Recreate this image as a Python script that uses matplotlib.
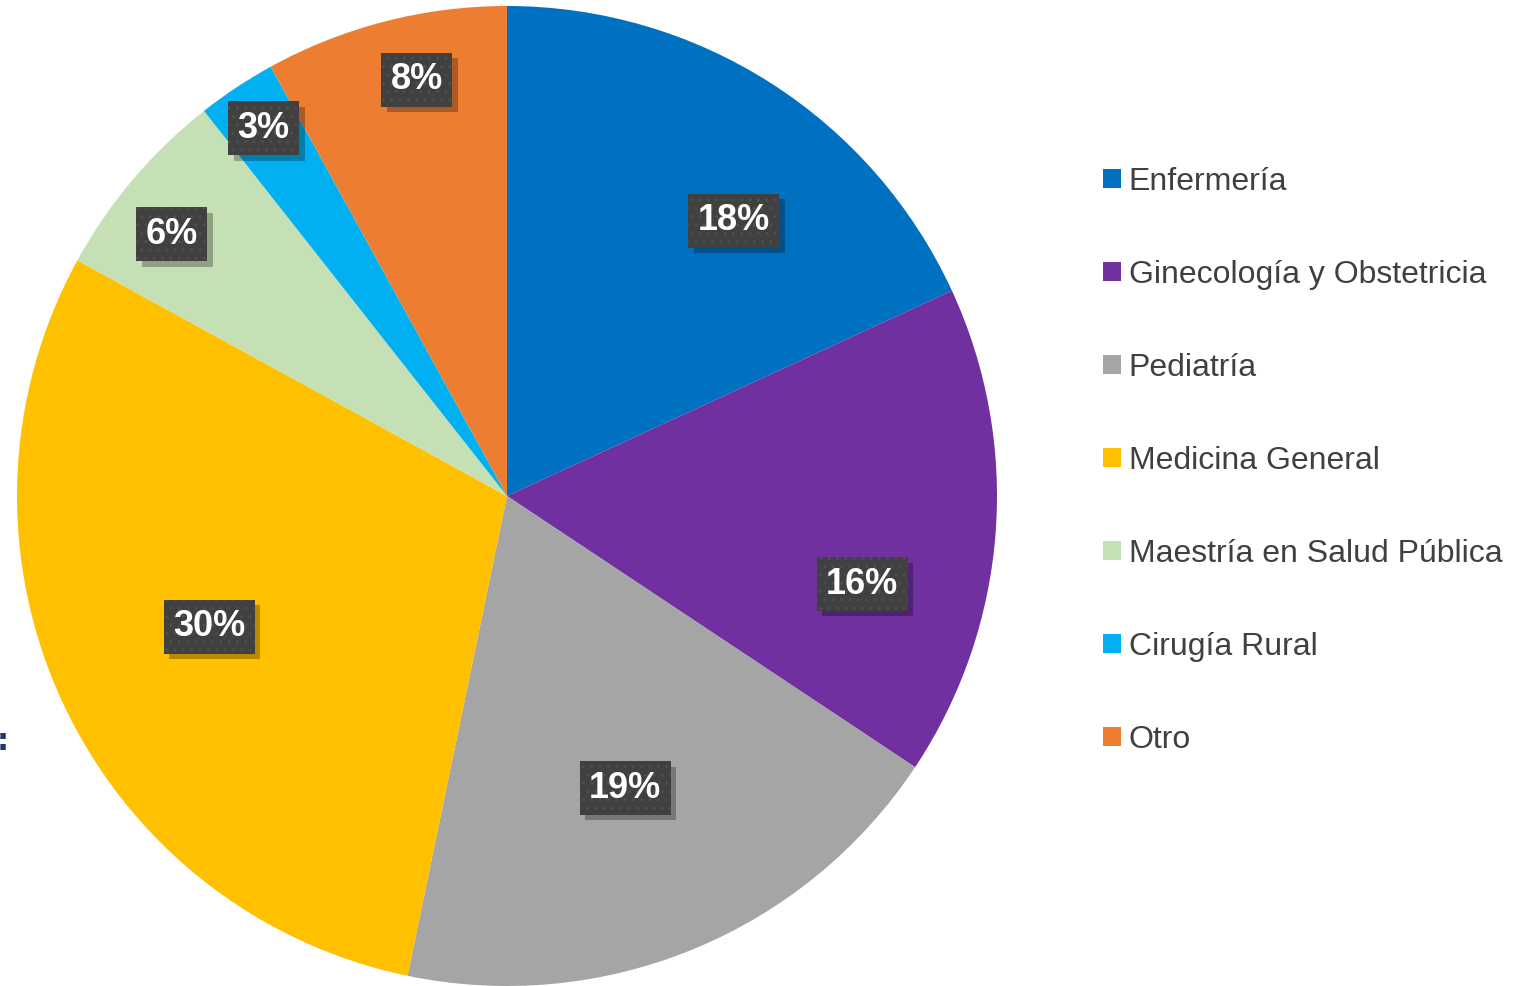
import numpy as np
import matplotlib
matplotlib.use("Agg")
import matplotlib.pyplot as plt
from matplotlib.patches import Patch
import matplotlib.patheffects as pe

# ---- data ----
categories = ["Enfermería", "Ginecología y Obstetricia", "Pediatría",
              "Medicina General", "Maestría en Salud Pública",
              "Cirugía Rural", "Otro"]
values = [18.1, 16.2, 18.9, 29.7, 6.4, 2.6, 8.0]
colors = ["#0070C0", "#7030A0", "#A5A5A5", "#FFC000", "#C5E0B4",
          "#00B0F0", "#ED7D31"]
# label placement style (radial fraction, angular offset in degrees)
label_r = [0.728, 0.747, 0.643, 0.664, 0.868, 0.90, 0.869]
label_dang = [-6.9, -9.5, -0.3, -1.1, 2.3, 0.0, -2.2]

W, H = 1514, 986
fig = plt.figure(figsize=(W / 100, H / 100), dpi=100)
fig.patch.set_facecolor("white")

cx, cy, R = 507, 496, 490
ax = fig.add_axes([(cx - R) / W, (H - cy - R) / H, 2 * R / W, 2 * R / H])
wedges, _ = ax.pie(values, colors=colors, startangle=90, counterclock=False,
                   radius=1.0, wedgeprops=dict(linewidth=0))
ax.set_xlim(-1, 1)
ax.set_ylim(-1, 1)
ax.set_aspect("equal")
ax.axis("off")

total = sum(values)
for w, v, r, da in zip(wedges, values, label_r, label_dang):
    mid = np.deg2rad((w.theta1 + w.theta2) / 2 + da)
    x, y = r * np.cos(mid), r * np.sin(mid)
    txt = f"{v / total * 100:.0f}%"
    t = ax.text(x, y, txt, ha="center", va="center", fontsize=26,
                fontweight="bold", family="Liberation Sans", color="white",
                bbox=dict(boxstyle="square,pad=0.26", facecolor="#404040",
                          edgecolor="#4e4e4e", linewidth=0.0, hatch=".."))
    t.get_bbox_patch().set_path_effects(
        [pe.PathPatchEffect(offset=(4, -4), facecolor="black",
                            edgecolor="none", alpha=0.28), pe.Normal()])

handles = [Patch(facecolor=c, edgecolor="none") for c in colors]
leg = fig.legend(handles, categories, loc="upper left",
                 bbox_to_anchor=(1103 / W, 1 - 167 / H),
                 frameon=False, prop=dict(family="Liberation Sans", size=23),
                 labelcolor="#404040", handlelength=0.55, handleheight=0.55,
                 handletextpad=0.25, labelspacing=1.97, borderaxespad=0,
                 borderpad=0)

fig.text(-0.002, 1 - 741 / H, ":", fontsize=22, fontweight="bold",
         color="#1F3864", ha="left", va="center")

fig.savefig("out.png", dpi=100, facecolor="white")
